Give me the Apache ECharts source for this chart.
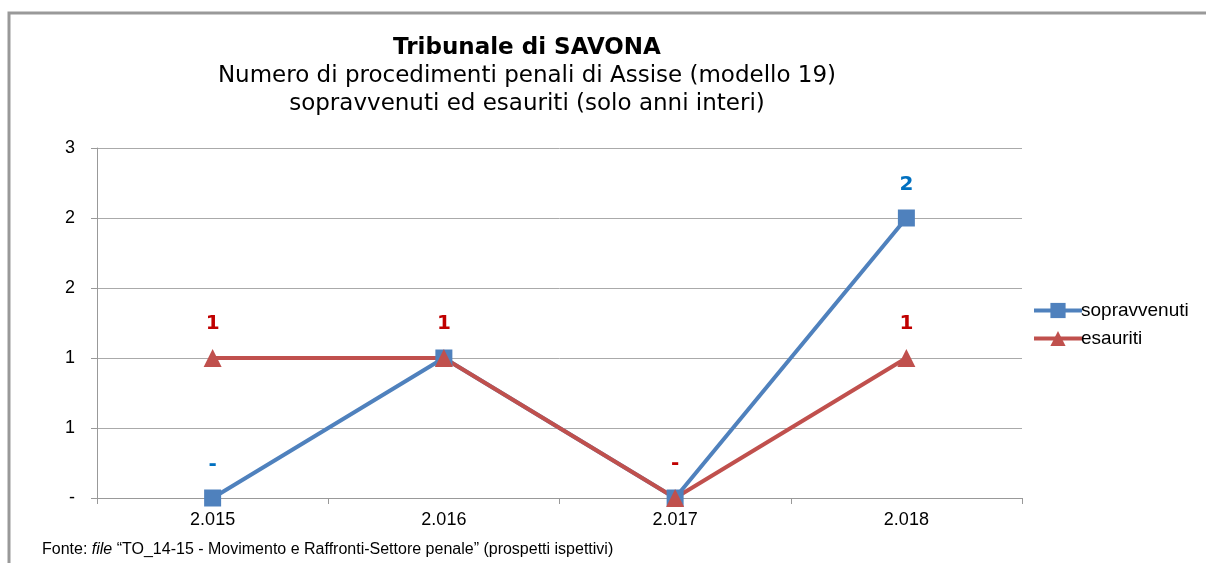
<!DOCTYPE html>
<html>
<head>
<meta charset="utf-8">
<script src="https://cdn.jsdelivr.net/npm/echarts@6/dist/echarts.min.js"></script>
<style>
  html, body { margin: 0; padding: 0; background: #fff; }
  #chart { width: 1206px; height: 563px; }
</style>
</head>
<body>
<div id="chart"></div>
<script>
  // dati
  const anni = ['2.015', '2.016', '2.017', '2.018']
  const sopravvenuti = [0, 1, 0, 2]
  const esauriti = [1, 1, 0, 1]

  const myChart = echarts.init(document.getElementById('chart'))

  const fmtLabel = (p) => (p.value === 0 ? '-' : String(p.value))
  // l'etichetta blu resta coperta da quella rossa quando i valori coincidono
  const fmtBlu = (p) => (esauriti[p.dataIndex] === p.value ? '' : fmtLabel(p))

  let option = {
    animation: false,
    backgroundColor: '#fff',
    title: {
      text: 'Tribunale di SAVONA',
      subtext: 'Numero di procedimenti penali di Assise (modello 19)\nsopravvenuti ed esauriti (solo anni interi)',
      left: 522,
      top: 32,
      textAlign: 'center',
      itemGap: 2,
      textStyle: {
        fontFamily: 'DejaVu Sans',
        fontSize: 23,
        fontWeight: 'bold',
        color: '#000'
      },
      subtextStyle: {
        fontFamily: 'DejaVu Sans',
        fontSize: 23,
        color: '#000',
        lineHeight: 28
      }
    },
    legend: {
      orient: 'vertical',
      left: 1027,
      top: 296,
      itemWidth: 48,
      itemHeight: 19,
      itemGap: 9,
      lineStyle: { width: 4 },
      textStyle: {
        fontFamily: 'Liberation Sans',
        fontSize: 19,
        color: '#000',
        padding: [0, 0, 0, -6]
      },
      data: ['sopravvenuti', 'esauriti']
    },
    grid: {
      left: 97,
      right: 184,
      top: 148,
      bottom: 65
    },
    xAxis: {
      type: 'category',
      boundaryGap: true,
      data: anni,
      axisLine: { lineStyle: { color: '#999', width: 1 } },
      axisTick: { show: true, length: 6, lineStyle: { color: '#999' } },
      axisLabel: {
        fontFamily: 'Liberation Sans',
        fontSize: 18,
        color: '#000',
        margin: 13
      }
    },
    yAxis: {
      type: 'value',
      min: 0,
      max: 2.5,
      interval: 0.5,
      axisLine: { show: true, lineStyle: { color: '#999', width: 1 } },
      axisTick: { show: true, length: 6, lineStyle: { color: '#999' } },
      splitLine: { lineStyle: { color: '#aaa', width: 1 } },
      axisLabel: {
        fontFamily: 'Liberation Sans',
        fontSize: 18,
        color: '#000',
        margin: 22,
        formatter: (v) => (v === 0 ? '-' : String(Math.round(v)))
      }
    },
    series: [
      {
        name: 'sopravvenuti',
        type: 'line',
        data: sopravvenuti,
        symbol: 'rect',
        symbolSize: 17,
        itemStyle: { color: '#4F81BD' },
        lineStyle: { color: '#4F81BD', width: 4 },
        label: {
          show: true,
          position: 'top',
          distance: 15,
          color: '#0070C0',
          fontFamily: 'DejaVu Sans',
          fontWeight: 'bold',
          fontSize: 20,
          formatter: fmtBlu
        }
      },
      {
        name: 'esauriti',
        type: 'line',
        data: esauriti,
        symbol: 'triangle',
        symbolSize: 18,
        itemStyle: { color: '#C0504D' },
        lineStyle: { color: '#C0504D', width: 4 },
        label: {
          show: true,
          position: 'top',
          distance: 15,
          color: '#C00000',
          fontFamily: 'DejaVu Sans',
          fontWeight: 'bold',
          fontSize: 20,
          formatter: fmtLabel
        }
      }
    ],
    graphic: [
      // cornice
      {
        type: 'polyline',
        shape: { points: [[9, 563], [9, 13], [1206, 13]] },
        style: { stroke: '#999', lineWidth: 3, fill: null }
      },
      {
        type: 'text',
        left: 42,
        top: 542,
        style: {
          text: '{n|Fonte: }{i|file}{n| “TO_14-15 - Movimento e Raffronti-Settore penale” (prospetti ispettivi)}',
          rich: {
            n: { fontFamily: 'Liberation Sans', fontSize: 16, fill: '#000' },
            i: { fontFamily: 'Liberation Sans', fontSize: 16, fontStyle: 'italic', fill: '#000' }
          }
        }
      }
    ]
  }

  myChart.setOption(option)
</script>
</body>
</html>
